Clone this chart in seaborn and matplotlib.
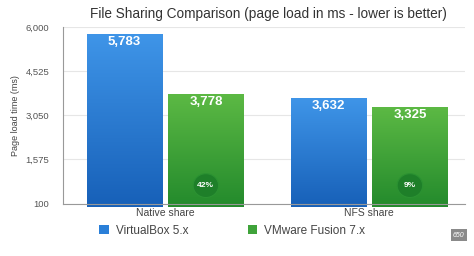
import numpy as np
import pandas as pd
import matplotlib
matplotlib.use("Agg")
import matplotlib.pyplot as plt
from matplotlib.colors import LinearSegmentedColormap
from matplotlib.patches import Patch, Ellipse
import seaborn as sns

categories = ["Native share", "NFS share"]
series = ["VirtualBox 5.x", "VMware Fusion 7.x"]
virtualbox = [5783, 3632]
vmware = [3778, 3325]
improvement = ["42%", "9%"]
yticks = [100, 1575, 3050, 4525, 6000]

df = pd.DataFrame({
    "share": categories * 2,
    "product": [series[0]] * 2 + [series[1]] * 2,
    "ms": virtualbox + vmware,
})

sns.set_theme(style="white")
plt.rcParams["font.family"] = ["Liberation Sans", "DejaVu Sans"]

fig = plt.figure(figsize=(4.74, 2.56), dpi=100)
ax = fig.add_axes([0.133, 0.205, 0.848, 0.688])

palette = {series[0]: "#2a7fd8", series[1]: "#3fa33a"}
sns.barplot(data=df, x="share", y="ms", hue="product", order=categories,
            hue_order=series, palette=palette, width=0.8, gap=0.08,
            ax=ax, legend=False, saturation=1, linewidth=0)

ax.set_ylim(100, 6000)
ax.set_xlim(-0.5, 1.47)
ax.set_yticks(yticks)
ax.set_yticklabels([f"{v:,}" for v in yticks], fontsize=6.8, color="#555555")
ax.tick_params(axis="x", labelsize=7.5, colors="#444444", length=0, pad=3)
ax.tick_params(axis="y", length=0, pad=10)
ax.set_xlabel("")
ax.set_ylabel("Page load time (ms)", fontsize=6.5, color="#444444", labelpad=4)
ax.grid(axis="y", color="#e6e6e6", linewidth=0.8)
ax.set_axisbelow(True)
for s in ["top", "right"]:
    ax.spines[s].set_visible(False)
for s in ["left", "bottom"]:
    ax.spines[s].set_color("#999999")
    ax.spines[s].set_linewidth(0.8)

grads = {
    0: LinearSegmentedColormap.from_list("b", ["#1760b8", "#3f95e8"]),
    1: LinearSegmentedColormap.from_list("g", ["#238a2c", "#5cb944"]),
}
patches = sorted(ax.patches, key=lambda p: p.get_x())
grad_img = np.linspace(0, 1, 256).reshape(-1, 1)
for i, p in enumerate(patches):
    x0, y0 = p.get_x(), p.get_y()
    w, h = p.get_width(), p.get_height()
    cmap = grads[i % 2]
    im = ax.imshow(grad_img, cmap=cmap, origin="lower", aspect="auto",
                   extent=[x0, x0 + w, y0, y0 + h], zorder=p.get_zorder() + 0.1)
    im.set_clip_path(p)
    ax.text(x0 + w / 2, y0 + h - 60, f"{int(round(h)):,}", ha="center", va="top",
            color="white", fontsize=9.5, fontweight="bold", zorder=5)
    if i % 2 == 1:
        k = i // 2
        cx = x0 + w / 2
        ax.add_patch(Ellipse((cx, 700), 0.125, 800, facecolor="#1e7f29",
                             edgecolor="#2b9232", linewidth=0.8, zorder=5))
        ax.text(cx, 700, improvement[k], ha="center", va="center", color="white",
                fontsize=6, fontweight="bold", zorder=6)
ax.set_xlim(-0.5, 1.47)
ax.set_ylim(100, 6000)

fig.text(0.566, 0.945, "File Sharing Comparison (page load in ms - lower is better)",
         ha="center", va="center", fontsize=9.8, color="#333333")

handles = [Patch(facecolor=palette[s], edgecolor="none") for s in series]
fig.legend(handles, series, loc="center", bbox_to_anchor=(0.49, 0.098), ncol=2,
           frameon=False, fontsize=8.5, handlelength=0.8, handleheight=0.8,
           handletextpad=0.6, columnspacing=5.0, labelcolor="#444444")

fig.text(0.968, 0.082, "650", ha="center", va="center", fontsize=5, color="white",
         style="italic", bbox=dict(boxstyle="square,pad=0.35", facecolor="#8a8a8a",
                                   edgecolor="none"))

fig.savefig("out.png", dpi=100)
